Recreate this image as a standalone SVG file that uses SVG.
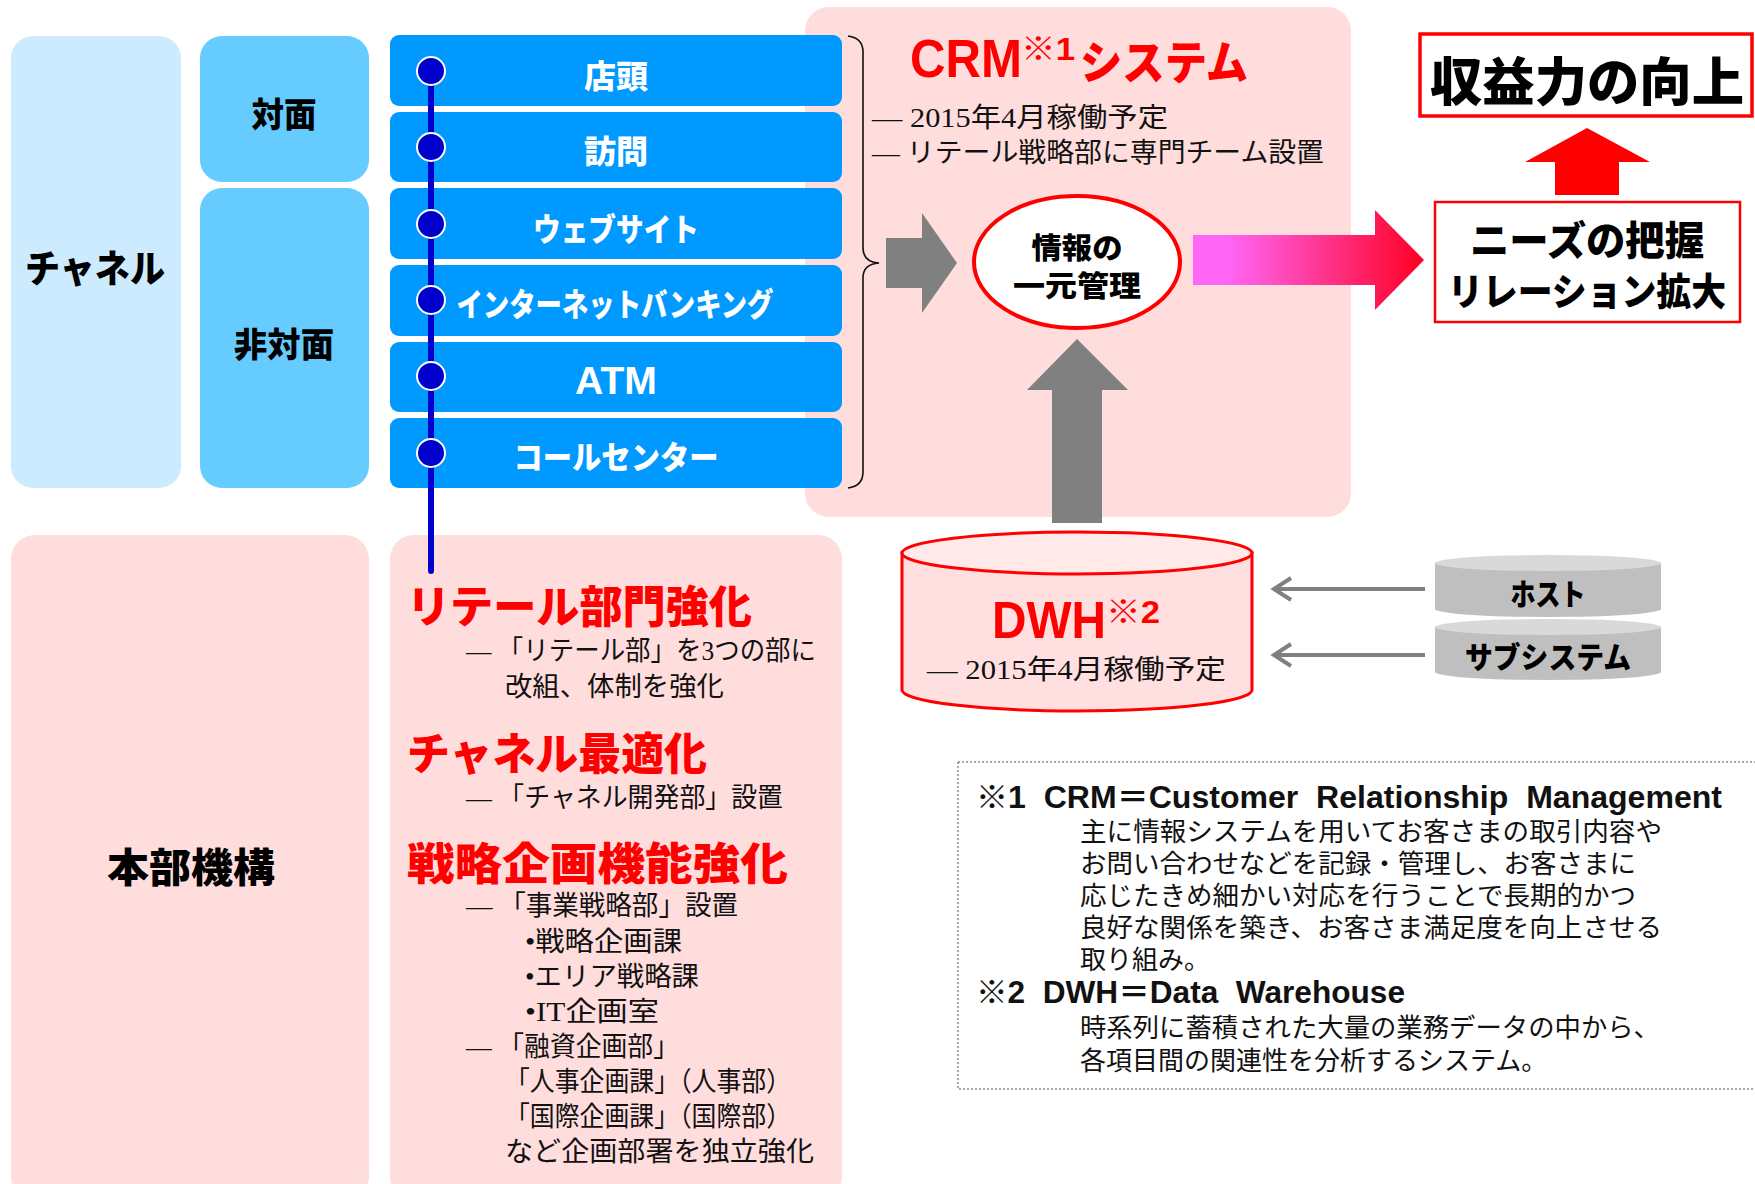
<svg xmlns="http://www.w3.org/2000/svg" width="1755" height="1184" viewBox="0 0 1755 1184">
<style>
.bj{font-family:"Noto Sans CJK JP",sans-serif;font-weight:900;dominant-baseline:central}
.bl{font-family:"Liberation Sans","Noto Sans CJK JP",sans-serif;font-weight:700}
.sj{font-family:"Liberation Serif","Noto Sans CJK JP",serif;font-size:27px;fill:#111;dominant-baseline:central}
.rj{font-family:"Noto Sans CJK JP",sans-serif;font-size:26px;fill:#111;dominant-baseline:central}
.row{fill:#0099FF}
.wt{fill:#fff;font-size:32px;text-anchor:middle}
.pink{fill:#FFDDDD}
.dot{fill:#0000CC;stroke:#fff;stroke-width:2}
.red{fill:#FF0000}
.gray{fill:#808080}
</style>
<defs>
<linearGradient id="pg" x1="0" y1="0" x2="1" y2="0">
<stop offset="0.15" stop-color="#FF66F5"/>
<stop offset="1" stop-color="#FF0022"/>
</linearGradient>
</defs>

<g id="crm-area"><rect x="805" y="7" width="546" height="510" rx="24" class="pink"/></g>

<g id="channel"><rect x="11" y="36" width="170" height="452" rx="22" fill="#CCEBFF"/><text class="bj" x="95" y="265" font-size="38" text-anchor="middle" textLength="140" lengthAdjust="spacingAndGlyphs">チャネル</text></g>
<g id="taimen"><rect x="200" y="36" width="169" height="146" rx="22" fill="#66CCFF"/><text class="bj" x="284" y="112" font-size="34" text-anchor="middle" textLength="65" lengthAdjust="spacingAndGlyphs">対面</text></g>
<g id="hitaimen"><rect x="200" y="188" width="169" height="300" rx="22" fill="#66CCFF"/><text class="bj" x="284" y="342" font-size="34" text-anchor="middle" textLength="100" lengthAdjust="spacingAndGlyphs">非対面</text></g>

<g id="row-tento"><rect x="390" y="35" width="452" height="71" rx="9" class="row"/><text class="bj wt" x="616" y="74" textLength="64" lengthAdjust="spacingAndGlyphs">店頭</text></g>
<g id="row-houmon"><rect x="390" y="112" width="452" height="70" rx="9" class="row"/><text class="bj wt" x="616" y="149" textLength="64" lengthAdjust="spacingAndGlyphs">訪問</text></g>
<g id="row-web"><rect x="390" y="188" width="452" height="71" rx="9" class="row"/><text class="bj wt" x="616" y="227" textLength="166" lengthAdjust="spacingAndGlyphs">ウェブサイト</text></g>
<g id="row-ib"><rect x="390" y="265" width="452" height="71" rx="9" class="row"/><text class="bj wt" x="615" y="302" textLength="317" lengthAdjust="spacingAndGlyphs">インターネットバンキング</text></g>
<g id="row-atm"><rect x="390" y="342" width="452" height="70" rx="9" class="row"/><text class="bl" x="616" y="394" font-size="38" fill="#fff" text-anchor="middle" textLength="82" lengthAdjust="spacingAndGlyphs">ATM</text></g>
<g id="row-call"><rect x="390" y="418" width="452" height="70" rx="9" class="row"/><text class="bj wt" x="616" y="455" textLength="205" lengthAdjust="spacingAndGlyphs">コールセンター</text></g>

<g id="brace"><path d="M848,36 Q863,38 863,52 L863,248 Q863,262 879,263 Q863,264 863,278 L863,472 Q863,486 848,488" fill="none" stroke="#111" stroke-width="1.6"/></g>

<g id="crm-title">
<text class="bl" x="910" y="77" font-size="54" fill="#FF0000" textLength="112" lengthAdjust="spacingAndGlyphs">CRM</text>
<text class="bl" x="1021" y="60" font-size="32" fill="#FF0000" textLength="54" lengthAdjust="spacingAndGlyphs">※1</text>
<text class="bj" x="1080" y="59" font-size="46" fill="#FF0000" textLength="168" lengthAdjust="spacingAndGlyphs">システム</text>
<text class="sj" x="872" y="118" textLength="296" lengthAdjust="spacingAndGlyphs">— 2015年4月稼働予定</text>
<text class="sj" x="872" y="153" textLength="452" lengthAdjust="spacingAndGlyphs">— リテール戦略部に専門チーム設置</text>
</g>

<g id="info-mgmt"><ellipse cx="1077" cy="262" rx="103" ry="66" fill="#fff" stroke="#FF0000" stroke-width="4"/><text class="bj" x="1077" y="246" font-size="29" text-anchor="middle" textLength="91" lengthAdjust="spacingAndGlyphs">情報の</text><text class="bj" x="1077" y="284" font-size="29" text-anchor="middle" textLength="128" lengthAdjust="spacingAndGlyphs">一元管理</text></g>

<g id="needs"><rect x="1435" y="202" width="305" height="120" fill="#fff" stroke="#FF0000" stroke-width="2.5"/><text class="bj" x="1587" y="238" font-size="40" text-anchor="middle" textLength="234" lengthAdjust="spacingAndGlyphs">ニーズの把握</text><text class="bj" x="1587" y="288" font-size="38" text-anchor="middle" textLength="278" lengthAdjust="spacingAndGlyphs">リレーション拡大</text></g>

<g id="profit"><rect x="1420" y="34" width="332" height="82" fill="#fff" stroke="#FF0000" stroke-width="3.5"/><text class="bj" x="1587" y="78" font-size="52" text-anchor="middle" textLength="314" lengthAdjust="spacingAndGlyphs">収益力の向上</text></g>

<g id="dwh">
<path d="M902,553 L902,690 A175,21 0 0 0 1252,690 L1252,553 Z" fill="#FFDFDF" stroke="#FF0000" stroke-width="3"/>
<ellipse cx="1077" cy="553" rx="175" ry="21" fill="#FFE9E9" stroke="#FF0000" stroke-width="3"/>
<text class="bl" x="992" y="638" font-size="52" fill="#FF0000" textLength="114" lengthAdjust="spacingAndGlyphs">DWH</text>
<text class="bl" x="1106" y="623" font-size="32" fill="#FF0000" textLength="54" lengthAdjust="spacingAndGlyphs">※2</text>
<text class="sj" x="927" y="670" textLength="299" lengthAdjust="spacingAndGlyphs">— 2015年4月稼働予定</text>
</g>

<g id="host">
<path d="M1435,563 L1435,609 A113,8 0 0 0 1661,609 L1661,563 Z" fill="#BFBFBF"/>
<ellipse cx="1548" cy="563" rx="113" ry="8" fill="#D9D9D9"/>
<text class="bj" x="1548" y="592" font-size="30" text-anchor="middle" textLength="75" lengthAdjust="spacingAndGlyphs">ホスト</text>
</g>
<g id="subsystem">
<path d="M1435,627 L1435,672 A113,8 0 0 0 1661,672 L1661,627 Z" fill="#BFBFBF"/>
<ellipse cx="1548" cy="627" rx="113" ry="8" fill="#D9D9D9"/>
<text class="bj" x="1548" y="655" font-size="30" text-anchor="middle" textLength="166" lengthAdjust="spacingAndGlyphs">サブシステム</text>
</g>

<g id="connectors">
<polygon points="886,238 922,238 922,213 957,263 922,313 922,288 886,288" class="gray"/>
<polygon points="1193,235 1375,235 1375,210 1424,260 1375,310 1375,285 1193,285" fill="url(#pg)"/>
<polygon points="1555,195 1555,162 1525,162 1587,128 1650,162 1619,162 1619,195" class="red"/>
<polygon points="1052,523 1052,390 1027,390 1077,339 1128,390 1102,390 1102,523" class="gray"/>
<line x1="1425" y1="589" x2="1275" y2="589" stroke="#808080" stroke-width="4"/>
<polyline points="1291,578 1274,589 1291,600" fill="none" stroke="#808080" stroke-width="4"/>
<line x1="1425" y1="655" x2="1275" y2="655" stroke="#808080" stroke-width="4"/>
<polyline points="1291,644 1274,655 1291,666" fill="none" stroke="#808080" stroke-width="4"/>
</g>

<g id="honbu"><rect x="11" y="535" width="358" height="665" rx="24" class="pink"/><text class="bj" x="191" y="865" font-size="40" text-anchor="middle" textLength="168" lengthAdjust="spacingAndGlyphs">本部機構</text></g>

<g id="reform">
<rect x="390" y="535" width="452" height="665" rx="24" class="pink"/>
<text class="bj" x="407" y="604" font-size="44" fill="#FF0000" textLength="345" lengthAdjust="spacingAndGlyphs">リテール部門強化</text>
<text class="sj" x="466" y="651" textLength="350" lengthAdjust="spacingAndGlyphs">— 「リテール部」を3つの部に</text>
<text class="sj" x="505" y="687" textLength="219" lengthAdjust="spacingAndGlyphs">改組、体制を強化</text>
<text class="bj" x="407" y="751" font-size="44" fill="#FF0000" textLength="300" lengthAdjust="spacingAndGlyphs">チャネル最適化</text>
<text class="sj" x="466" y="798" textLength="317" lengthAdjust="spacingAndGlyphs">— 「チャネル開発部」設置</text>
<text class="bj" x="407" y="861" font-size="44" fill="#FF0000" textLength="381" lengthAdjust="spacingAndGlyphs">戦略企画機能強化</text>
<text class="sj" x="466" y="906" textLength="272" lengthAdjust="spacingAndGlyphs">— 「事業戦略部」設置</text>
<text class="sj" x="525" y="942" textLength="157" lengthAdjust="spacingAndGlyphs">•戦略企画課</text>
<text class="sj" x="525" y="977" textLength="174" lengthAdjust="spacingAndGlyphs">•エリア戦略課</text>
<text class="sj" x="525" y="1012" textLength="134" lengthAdjust="spacingAndGlyphs">•IT企画室</text>
<text class="sj" x="466" y="1047" textLength="213" lengthAdjust="spacingAndGlyphs">— 「融資企画部」</text>
<text class="sj" x="505" y="1082" textLength="286" lengthAdjust="spacingAndGlyphs">「人事企画課」（人事部）</text>
<text class="sj" x="505" y="1117" textLength="286" lengthAdjust="spacingAndGlyphs">「国際企画課」（国際部）</text>
<text class="sj" x="505" y="1152" textLength="309" lengthAdjust="spacingAndGlyphs">など企画部署を独立強化</text>
</g>

<g id="timeline">
<line x1="431" y1="71" x2="431" y2="571" stroke="#0000CC" stroke-width="6" stroke-linecap="round"/>
<ellipse cx="431" cy="71" rx="14" ry="14" class="dot"/>
<ellipse cx="431" cy="147" rx="14" ry="14" class="dot"/>
<ellipse cx="431" cy="224" rx="14" ry="14" class="dot"/>
<ellipse cx="431" cy="300" rx="14" ry="14" class="dot"/>
<ellipse cx="431" cy="376" rx="14" ry="14" class="dot"/>
<ellipse cx="431" cy="453" rx="14" ry="14" class="dot"/>
</g>

<g id="footnote">
<rect x="958" y="762" width="800" height="327" fill="#fff" stroke="#555" stroke-width="1" stroke-dasharray="2,2"/>
<text class="bl" x="976" y="808" font-size="31" fill="#111" xml:space="preserve" textLength="746" lengthAdjust="spacingAndGlyphs">※1  CRM＝Customer  Relationship  Management</text>
<text class="rj" x="1080" y="829" textLength="582" lengthAdjust="spacingAndGlyphs">主に情報システムを用いてお客さまの取引内容や</text>
<text class="rj" x="1080" y="861" textLength="556" lengthAdjust="spacingAndGlyphs">お問い合わせなどを記録・管理し、お客さまに</text>
<text class="rj" x="1080" y="893" textLength="556" lengthAdjust="spacingAndGlyphs">応じたきめ細かい対応を行うことで長期的かつ</text>
<text class="rj" x="1080" y="925" textLength="582" lengthAdjust="spacingAndGlyphs">良好な関係を築き、お客さま満足度を向上させる</text>
<text class="rj" x="1080" y="957">取り組み。</text>
<text class="bl" x="976" y="1003" font-size="31" fill="#111" xml:space="preserve" textLength="429" lengthAdjust="spacingAndGlyphs">※2  DWH＝Data  Warehouse</text>
<text class="rj" x="1080" y="1025" textLength="580" lengthAdjust="spacingAndGlyphs">時系列に蓄積された大量の業務データの中から、</text>
<text class="rj" x="1080" y="1058">各項目間の関連性を分析するシステム。</text>
</g>
</svg>
